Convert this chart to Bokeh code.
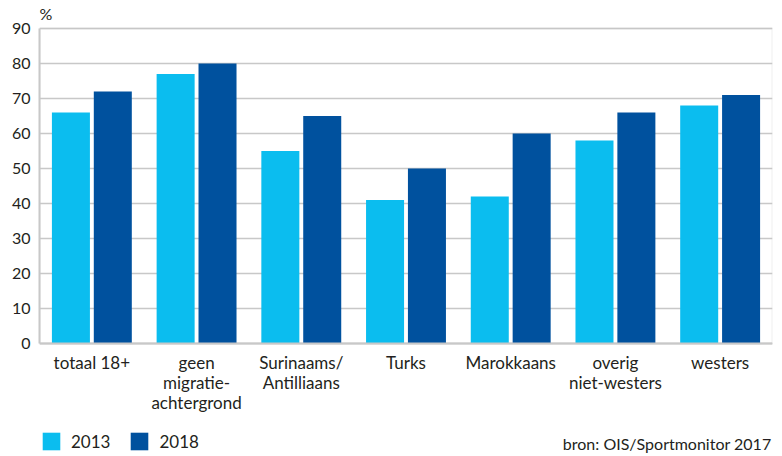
from bokeh.plotting import figure
from bokeh.models import (FactorRange, Range1d, Legend, LegendItem, Label,
                          FixedTicker, ColumnDataSource, BoxAnnotation)
from bokeh.transform import dodge
from bokeh.embed import file_html
from bokeh.resources import INLINE

category_labels = ["totaal 18+", "geen\nmigratie-\nachtergrond", "Surinaams/\nAntilliaans",
                   "Turks", "Marokkaans", "overig\nniet-westers", "westers"]
values_2013 = [66, 77, 55, 41, 42, 58, 68]
values_2018 = [72, 80, 65, 50, 60, 66, 71]
series_names = ["2013", "2018"]
y_ticks = [0, 10, 20, 30, 40, 50, 60, 70, 80, 90]

FONT = "Lato"
TXT = "#231f20"
GRID = "#c8c8c8"
C13 = "#0bbdef"
C18 = "#00519e"

src = ColumnDataSource(dict(cat=category_labels, v13=values_2013, v18=values_2018))

# frame spans the full height; the value axis runs 0..90 inside it
p = figure(width=782, height=456,
           x_range=FactorRange(factors=category_labels, range_padding=0),
           y_range=Range1d(-32.29, 98), output_backend="svg", toolbar_location=None,
           min_border_left=39, min_border_right=10, min_border_top=0, min_border_bottom=0)

r13 = p.vbar(x=dodge("cat", -0.2, range=p.x_range), top="v13", width=0.363, source=src,
             fill_color=C13, line_color=None)
r18 = p.vbar(x=dodge("cat", 0.2, range=p.x_range), top="v18", width=0.363, source=src,
             fill_color=C18, line_color=None)

p.outline_line_color = None
p.background_fill_color = None
p.xgrid.grid_line_color = None
p.ygrid.grid_line_color = GRID
p.ygrid.grid_line_width = 1.5
p.yaxis.ticker = FixedTicker(ticks=y_ticks)
p.yaxis.bounds = (0, 90)
for ax in (p.xaxis[0], p.yaxis[0]):
    ax.axis_line_color = GRID
    ax.axis_line_width = 2
    ax.major_tick_line_color = None
    ax.minor_tick_line_color = None
    ax.major_tick_out = 0
    ax.major_tick_in = 0
    ax.minor_tick_out = 0
    ax.major_label_text_font = FONT
    ax.major_label_text_color = TXT
p.yaxis.major_label_text_font_size = "16px"
p.xaxis.major_label_text_font_size = "17px"
p.yaxis.major_label_standoff = 9
p.xaxis.major_label_standoff = 9
p.xaxis.fixed_location = 0
p.xaxis.major_label_text_line_height = 0.93

# plot-area box (0..90)
p.add_layout(BoxAnnotation(bottom=0, top=90, fill_color=None, fill_alpha=0,
                           line_color=GRID, line_width=2, level="underlay"))

p.add_layout(Label(x=0, y=434, x_units="screen", y_units="screen", text="%",
                   text_font=FONT, text_font_size="16px", text_color=TXT))
p.add_layout(Label(x=732, y=4, x_units="screen", y_units="screen",
                   text="bron: OIS/Sportmonitor 2017", text_align="right",
                   text_font=FONT, text_font_size="16px", text_color=TXT))

legend = Legend(items=[LegendItem(label=series_names[0], renderers=[r13]),
                       LegendItem(label=series_names[1], renderers=[r18])],
                location=(1, 4), orientation="horizontal",
                glyph_width=22, glyph_height=22, label_standoff=9, spacing=18,
                padding=0, margin=0, border_line_color=None, background_fill_alpha=0,
                label_text_font=FONT, label_text_font_size="17px", label_text_color=TXT)
p.add_layout(legend, "center")

open("out.html", "w").write(file_html(p, INLINE))
